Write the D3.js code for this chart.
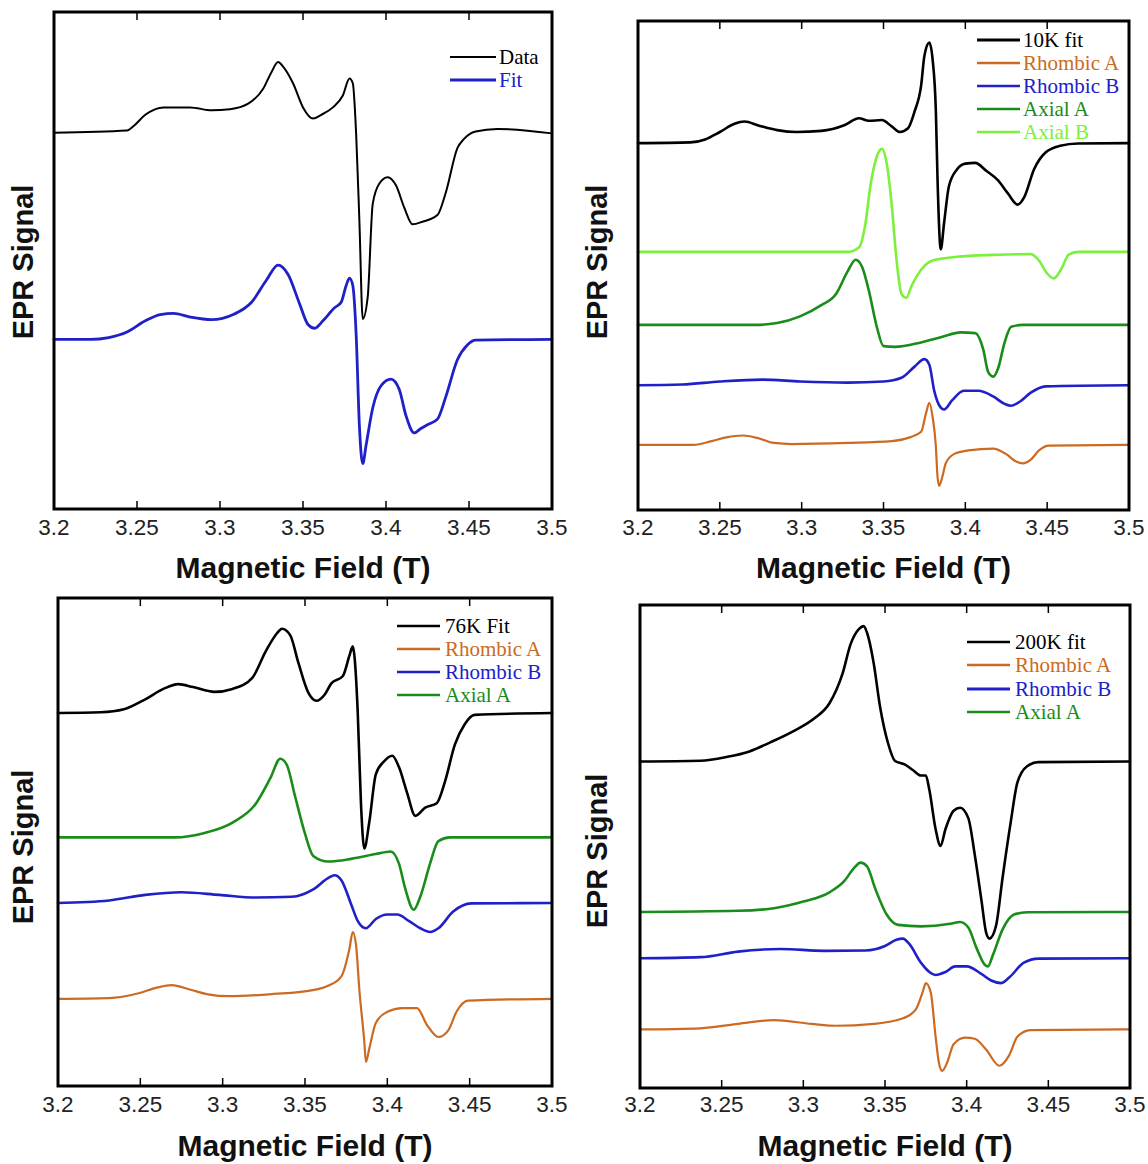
<!DOCTYPE html>
<html><head><meta charset="utf-8">
<script src="https://cdn.jsdelivr.net/npm/d3@7"></script>
<style>
html,body{margin:0;padding:0;background:#fff;}
svg{display:block;}
</style></head><body>
<svg id="chart" width="1148" height="1164"></svg>
<script>
// ---------- shared axis ----------
const fieldTicks = [3.2, 3.25, 3.3, 3.35, 3.4, 3.45, 3.5];
const fieldTickLabels = ["3.2", "3.25", "3.3", "3.35", "3.4", "3.45", "3.5"];

// ---------- panel a: 10 K data with simulation ----------
const aDataField = [3.200,3.244,3.248,3.255,3.266,3.282,3.295,3.306,3.317,3.326,3.331,3.335,3.338,3.344,3.350,3.356,3.361,3.368,3.374,3.378,3.380,3.382,3.384,3.386,3.389,3.392,3.396,3.401,3.406,3.411,3.416,3.422,3.431,3.436,3.443,3.447,3.454,3.467,3.500];
const aDataSignal = [0,6,18,48,68,68,60,63,78,118,163,190,178,133,68,38,48,68,100,146,133,-2,-242,-502,-442,-192,-137,-120,-142,-202,-247,-240,-222,-162,-42,-17,3,10,-2];
const aFitField = [3.200,3.222,3.233,3.244,3.255,3.264,3.272,3.282,3.295,3.308,3.319,3.328,3.335,3.341,3.348,3.353,3.357,3.362,3.369,3.373,3.376,3.378,3.380,3.382,3.384,3.386,3.388,3.392,3.397,3.403,3.408,3.412,3.417,3.421,3.425,3.431,3.436,3.443,3.449,3.454,3.500];
const aFitSignal = [0,0,5,20,50,67,70,60,53,67,100,160,200,175,95,40,30,50,85,100,145,165,145,15,-235,-335,-285,-185,-125,-107,-135,-205,-252,-240,-230,-215,-155,-55,-15,-2,0];
const aNames = ["Data", "Fit"];
const aOffsets = [1014, 457];
const aRange = 1339;

// ---------- panel b: 10 K fit and its components ----------
const bFitField = [3.200,3.232,3.241,3.250,3.259,3.265,3.274,3.285,3.297,3.312,3.326,3.335,3.341,3.349,3.355,3.360,3.365,3.369,3.373,3.375,3.378,3.380,3.382,3.383,3.385,3.387,3.390,3.395,3.400,3.406,3.413,3.420,3.426,3.432,3.436,3.442,3.449,3.458,3.469,3.500];
const bFitSignal = [0,2,10,30,52,58,47,35,30,33,48,67,60,62,45,30,40,85,155,235,270,225,85,-95,-285,-215,-115,-70,-55,-53,-75,-100,-135,-165,-145,-70,-25,-7,-1,0];
const bRhombAField = [3.200,3.234,3.245,3.254,3.264,3.274,3.283,3.294,3.328,3.355,3.366,3.373,3.376,3.378,3.380,3.382,3.383,3.384,3.386,3.388,3.393,3.402,3.417,3.425,3.431,3.435,3.440,3.445,3.451,3.500];
const bRhombASignal = [0,0,10,20,25,17,5,2,5,10,20,35,85,113,75,-5,-85,-110,-85,-50,-25,-15,-10,-25,-45,-50,-40,-15,-2,0];
const bRhombBField = [3.200,3.227,3.250,3.276,3.299,3.328,3.350,3.361,3.369,3.375,3.378,3.381,3.385,3.387,3.392,3.399,3.408,3.417,3.424,3.428,3.433,3.440,3.449,3.500];
const bRhombBSignal = [0,2,10,15,10,7,10,20,50,70,55,-15,-60,-65,-40,-15,-15,-30,-50,-55,-45,-20,-3,0];
const bAxialAField = [3.200,3.272,3.285,3.299,3.312,3.321,3.328,3.333,3.337,3.341,3.346,3.350,3.357,3.373,3.386,3.397,3.406,3.411,3.414,3.417,3.420,3.424,3.428,3.435,3.500];
const bAxialASignal = [0,0,5,23,53,83,143,175,155,93,-7,-57,-59,-47,-32,-20,-22,-67,-127,-139,-117,-47,-5,0,0];
const bAxialBField = [3.200,3.328,3.335,3.339,3.342,3.346,3.349,3.352,3.355,3.358,3.361,3.364,3.367,3.373,3.380,3.395,3.417,3.440,3.445,3.450,3.454,3.459,3.463,3.469,3.500];
const bAxialBSignal = [0,0,12,77,177,257,277,237,127,-23,-113,-123,-93,-48,-23,-13,-8,-6,-23,-58,-71,-43,-8,0,0];
const bNames = ["10K fit", "Rhombic A", "Rhombic B", "Axial A", "Axial B"];
const bOffsets = [985, 175, 335, 497, 693];
const bRange = 1313;

// ---------- panel c: 76 K fit and its components ----------
const cFitField = [3.200,3.226,3.240,3.253,3.264,3.273,3.282,3.295,3.306,3.318,3.326,3.333,3.336,3.341,3.346,3.352,3.357,3.362,3.366,3.373,3.377,3.379,3.380,3.382,3.384,3.386,3.389,3.393,3.398,3.403,3.407,3.412,3.417,3.423,3.430,3.435,3.441,3.447,3.453,3.500];
const cFitSignal = [0,2,10,37,65,78,70,57,65,95,165,215,227,210,135,55,33,50,80,100,155,180,155,5,-245,-365,-295,-165,-130,-115,-145,-215,-277,-255,-243,-185,-85,-30,-5,0];
const cRhombAField = [3.200,3.231,3.249,3.260,3.269,3.280,3.291,3.304,3.331,3.353,3.364,3.372,3.377,3.379,3.381,3.383,3.386,3.387,3.389,3.393,3.400,3.409,3.418,3.424,3.431,3.437,3.442,3.449,3.500];
const cRhombASignal = [0,2,15,30,37,25,12,7,13,22,35,60,135,180,145,25,-115,-170,-135,-65,-35,-25,-25,-70,-103,-85,-35,-5,0];
const cRhombBField = [3.200,3.231,3.253,3.275,3.298,3.320,3.342,3.355,3.364,3.368,3.372,3.378,3.382,3.387,3.393,3.400,3.406,3.413,3.420,3.426,3.431,3.440,3.451,3.500];
const cRhombBSignal = [0,7,22,29,22,15,17,37,67,75,62,-3,-48,-68,-43,-31,-31,-48,-68,-78,-68,-23,-1,0];
const cAxialAField = [3.200,3.271,3.289,3.306,3.320,3.329,3.335,3.339,3.344,3.350,3.355,3.364,3.378,3.393,3.402,3.407,3.411,3.416,3.420,3.426,3.431,3.438,3.500];
const cAxialASignal = [0,0,12,40,90,160,212,195,110,10,-50,-65,-58,-45,-38,-70,-140,-195,-160,-70,-10,0,0];
const cNames = ["76K Fit", "Rhombic A", "Rhombic B", "Axial A"];
const cOffsets = [1005, 235, 493, 670];
const cRange = 1315;

// ---------- panel d: 200 K fit and its components ----------
const dFitField = [3.200,3.237,3.253,3.267,3.280,3.294,3.307,3.316,3.324,3.329,3.334,3.337,3.339,3.343,3.347,3.352,3.356,3.362,3.367,3.372,3.375,3.377,3.381,3.384,3.387,3.392,3.396,3.401,3.405,3.409,3.412,3.414,3.418,3.422,3.427,3.431,3.437,3.444,3.500];
const dFitSignal = [0,2,12,27,52,82,117,157,237,317,357,365,347,267,147,47,2,-8,-23,-38,-38,-73,-183,-228,-183,-133,-125,-153,-253,-373,-463,-478,-443,-313,-163,-58,-13,-2,0];
const dRhombAField = [3.200,3.237,3.260,3.282,3.305,3.320,3.343,3.361,3.369,3.373,3.375,3.378,3.381,3.383,3.385,3.388,3.392,3.399,3.405,3.412,3.420,3.426,3.431,3.439,3.500];
const dRhombASignal = [0,3,15,25,15,10,15,30,55,100,125,100,-20,-90,-112,-90,-40,-22,-25,-55,-98,-70,-20,-2,0];
const dRhombBField = [3.200,3.237,3.260,3.286,3.313,3.338,3.350,3.357,3.361,3.365,3.372,3.381,3.387,3.393,3.400,3.409,3.415,3.421,3.426,3.435,3.444,3.500];
const dRhombBSignal = [0,3,18,25,20,21,33,50,53,38,-12,-45,-37,-22,-22,-42,-60,-67,-52,-12,-1,0];
const dAxialAField = [3.200,3.260,3.282,3.300,3.316,3.325,3.331,3.335,3.339,3.344,3.351,3.358,3.372,3.390,3.396,3.401,3.406,3.411,3.413,3.416,3.422,3.429,3.437,3.500];
const dAxialASignal = [0,3,10,28,53,83,118,133,123,63,-7,-35,-39,-32,-27,-42,-97,-142,-147,-117,-47,-7,-1,0];
const dNames = ["200K fit", "Rhombic A", "Rhombic B", "Axial A"];
const dOffsets = [881, 158, 350, 475];
const dRange = 1303;

// ---------- styling ----------
const COL = {
  black: "#000000",
  orange: "#cc6a22",
  blue: "#2020c8",
  dgreen: "#1a8c1a",
  lgreen: "#7cf03a"
};

const panels = [
  { frame: [54, 12, 552, 509], yMax: aRange, tickY: 535, titleY: 578, ylabel: [23, 262],
    legend: { x0: 450, x1: 496, tx: 499, rows: [57, 80] },
    traces: [
      { name: aNames[0], f: aDataField, s: aDataSignal, off: aOffsets[0], color: COL.black, w: 2.0, lw: 2.0 },
      { name: aNames[1], f: aFitField, s: aFitSignal, off: aOffsets[1], color: COL.blue, w: 2.8, lw: 3.0 }
    ] },
  { frame: [638, 21, 1129, 510], yMax: bRange, tickY: 535, titleY: 578, ylabel: [597, 262],
    legend: { x0: 977, x1: 1020, tx: 1023, rows: [40, 63, 86, 109, 132] },
    traces: [
      { name: bNames[0], f: bFitField, s: bFitSignal, off: bOffsets[0], color: COL.black, w: 2.6, lw: 3.0 },
      { name: bNames[1], f: bRhombAField, s: bRhombASignal, off: bOffsets[1], color: COL.orange, w: 2.2, lw: 2.4 },
      { name: bNames[2], f: bRhombBField, s: bRhombBSignal, off: bOffsets[2], color: COL.blue, w: 2.6, lw: 2.6 },
      { name: bNames[3], f: bAxialAField, s: bAxialASignal, off: bOffsets[3], color: COL.dgreen, w: 2.6, lw: 2.6 },
      { name: bNames[4], f: bAxialBField, s: bAxialBSignal, off: bOffsets[4], color: COL.lgreen, w: 2.6, lw: 2.6 }
    ] },
  { frame: [58, 598, 552, 1086], yMax: cRange, tickY: 1112, titleY: 1156, ylabel: [23, 847],
    legend: { x0: 397, x1: 440, tx: 445, rows: [626, 649, 672, 695] },
    traces: [
      { name: cNames[0], f: cFitField, s: cFitSignal, off: cOffsets[0], color: COL.black, w: 2.6, lw: 2.6 },
      { name: cNames[1], f: cRhombAField, s: cRhombASignal, off: cOffsets[1], color: COL.orange, w: 2.2, lw: 2.4 },
      { name: cNames[2], f: cRhombBField, s: cRhombBSignal, off: cOffsets[2], color: COL.blue, w: 2.6, lw: 2.6 },
      { name: cNames[3], f: cAxialAField, s: cAxialASignal, off: cOffsets[3], color: COL.dgreen, w: 2.6, lw: 2.6 }
    ] },
  { frame: [640, 605, 1130, 1088], yMax: dRange, tickY: 1112, titleY: 1156, ylabel: [597, 851],
    legend: { x0: 967, x1: 1010, tx: 1015, rows: [642, 665, 689, 712] },
    traces: [
      { name: dNames[0], f: dFitField, s: dFitSignal, off: dOffsets[0], color: COL.black, w: 2.6, lw: 2.6 },
      { name: dNames[1], f: dRhombAField, s: dRhombASignal, off: dOffsets[1], color: COL.orange, w: 2.2, lw: 2.4 },
      { name: dNames[2], f: dRhombBField, s: dRhombBSignal, off: dOffsets[2], color: COL.blue, w: 2.6, lw: 3.0 },
      { name: dNames[3], f: dAxialAField, s: dAxialASignal, off: dOffsets[3], color: COL.dgreen, w: 2.6, lw: 2.6 }
    ] }
];

const svg = d3.select("#chart");

panels.forEach(p => {
  const [x0, y0, x1, y1] = p.frame;
  const x = d3.scaleLinear().domain([3.2, 3.5]).range([x0, x1]);
  const y = d3.scaleLinear().domain([0, p.yMax]).range([y1, y0]);
  const g = svg.append("g");

  // stacked spectra, each on its own baseline
  const line = d3.line().curve(d3.curveMonotoneX);
  p.traces.forEach(t => {
    const pts = t.f.map((b, i) => [x(b), y(t.off + t.s[i])]);
    g.append("path")
      .attr("d", line(pts))
      .attr("fill", "none")
      .attr("stroke", t.color)
      .attr("stroke-width", t.w)
      .attr("stroke-linejoin", "round")
      .attr("stroke-linecap", "round");
  });

  // inward ticks on top and bottom edges
  const inner = fieldTicks.slice(1, -1);
  g.selectAll(null).data(inner).enter().append("line")
    .attr("x1", d => x(d)).attr("x2", d => x(d))
    .attr("y1", y1).attr("y2", y1 - 8)
    .attr("stroke", "#000").attr("stroke-width", 1.5);
  g.selectAll(null).data(inner).enter().append("line")
    .attr("x1", d => x(d)).attr("x2", d => x(d))
    .attr("y1", y0).attr("y2", y0 + 8)
    .attr("stroke", "#000").attr("stroke-width", 1.5);

  // frame
  g.append("rect")
    .attr("x", x0).attr("y", y0)
    .attr("width", x1 - x0).attr("height", y1 - y0)
    .attr("fill", "none").attr("stroke", "#000").attr("stroke-width", 3);

  // tick labels
  g.selectAll(null).data(fieldTicks).enter().append("text")
    .attr("x", d => x(d)).attr("y", p.tickY)
    .attr("text-anchor", "middle")
    .attr("font-family", "'Liberation Sans', Arial, sans-serif")
    .attr("font-size", 22.5)
    .attr("fill", "#222")
    .text((d, i) => fieldTickLabels[i]);

  // axis titles
  g.append("text")
    .attr("x", (x0 + x1) / 2).attr("y", p.titleY)
    .attr("text-anchor", "middle")
    .attr("font-family", "'Liberation Sans', Arial, sans-serif")
    .attr("font-weight", "bold").attr("font-size", 30)
    .attr("fill", "#111")
    .text("Magnetic Field (T)");
  g.append("text")
    .attr("transform", `translate(${p.ylabel[0]},${p.ylabel[1]}) rotate(-90)`)
    .attr("text-anchor", "middle")
    .attr("dominant-baseline", "central")
    .attr("font-family", "'Liberation Sans', Arial, sans-serif")
    .attr("font-weight", "bold").attr("font-size", 29)
    .attr("fill", "#111")
    .text("EPR Signal");

  // legend
  const lg = p.legend;
  p.traces.forEach((t, i) => {
    const ry = lg.rows[i];
    g.append("line")
      .attr("x1", lg.x0).attr("x2", lg.x1)
      .attr("y1", ry).attr("y2", ry)
      .attr("stroke", t.color).attr("stroke-width", t.lw);
    g.append("text")
      .attr("x", lg.tx).attr("y", ry + 7)
      .attr("font-family", "'Liberation Serif', 'Times New Roman', serif")
      .attr("font-size", 21)
      .attr("fill", t.color)
      .text(t.name);
  });
});
</script>
</body></html>
